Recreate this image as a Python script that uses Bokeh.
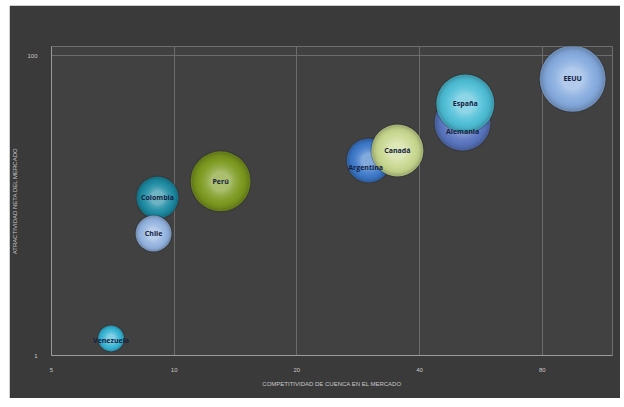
from bokeh.plotting import figure
from bokeh.layouts import row, column
from bokeh.models import (ColumnDataSource, FixedTicker, PrintfTickFormatter,
                          Spacer, Range1d)
from bokeh.embed import file_html
from bokeh.resources import INLINE
from bokeh.core.properties import value

# ---- data ----
countries = ["Venezuela", "Colombia", "Chile", "Perú", "Argentina", "Canadá",
             "Alemania", "España", "EEUU"]
competitividad = [7.0, 9.1, 8.9, 13.0, 30.0, 35.3, 51.0, 51.8, 95.0]
atractividad = [1.3, 11.3, 6.5, 14.5, 20.0, 23.3, 35.7, 47.9, 70.0]
bubble_size = [26, 42, 36, 60, 44, 52, 56, 58, 66]
x_ticks = [5, 10, 20, 40, 80]
y_ticks = [1, 100]

colors = ["#35b4d6", "#1b8ba3", "#93b3e0", "#7c9a1e", "#3b78c9", "#c9d98f",
          "#5a76c2", "#4dbfd8", "#86ace0"]
label_offsets = {"Venezuela": (0, 2), "Argentina": (-3, 7), "Alemania": (0, 9)}


def mix(c, t, f):
    a = [int(c[i:i + 2], 16) for i in (1, 3, 5)]
    b = [int(t[i:i + 2], 16) for i in (1, 3, 5)]
    return "#%02x%02x%02x" % tuple(int(round(a[i] + (b[i] - a[i]) * f)) for i in range(3))


p = figure(width=611, height=393, x_axis_type="log", y_axis_type="log",
           x_range=Range1d(5, 119), y_range=Range1d(1, 115),
           output_backend="svg", toolbar_location=None,
           min_border_left=39, min_border_right=8, min_border_top=41,
           min_border_bottom=43)
p.background_fill_color = "#414141"
p.border_fill_color = "#3a3a3a"
p.outline_line_color = None

for ax in (p.xaxis, p.yaxis):
    ax.axis_line_color = "#9a9a9a"
    ax.axis_line_width = 1
    ax.major_tick_line_color = None
    ax.minor_tick_line_color = None
    ax.major_label_text_color = "#c8c8c8"
    ax.major_label_text_font_size = "6px"
    ax.major_label_text_font = "Liberation Sans"
    ax.axis_label_text_color = "#c8c8c8"
    ax.axis_label_text_font_size = "6px"
    ax.axis_label_text_font = "Liberation Sans"
    ax.axis_label_text_font_style = "normal"
    ax.formatter = PrintfTickFormatter(format="%d")

p.xaxis.ticker = FixedTicker(ticks=x_ticks)
p.yaxis.ticker = FixedTicker(ticks=y_ticks)
p.xaxis.axis_label = "COMPETITIVIDAD DE CUENCA EN EL MERCADO"
p.yaxis.axis_label = "ATRACTIVIDAD NETA DEL MERCADO"
p.xaxis.major_label_standoff = 6
p.yaxis.major_label_standoff = 8
p.xaxis.axis_label_standoff = 6
p.yaxis.axis_label_standoff = 6

p.xgrid.ticker = FixedTicker(ticks=x_ticks[1:])
p.ygrid.ticker = FixedTicker(ticks=y_ticks[1:])
p.xgrid.grid_line_color = "#6c6c6c"
p.ygrid.grid_line_color = "#6c6c6c"
p.xgrid.minor_grid_line_color = None
p.ygrid.minor_grid_line_color = None

n_layers = 12
for i, name in enumerate(countries):
    base = colors[i]
    src = ColumnDataSource(dict(x=[competitividad[i]], y=[atractividad[i]]))
    p.scatter("x", "y", source=src, size=bubble_size[i] + 2,
              fill_color="#262626", fill_alpha=0.3, line_color=None)
    p.scatter("x", "y", source=src, size=bubble_size[i],
              fill_color=mix(base, "#000000", 0.18), line_color=None)
    for k in range(1, n_layers):
        f = k / (n_layers - 1)
        s = bubble_size[i] * (1 - 0.04 - 0.62 * f)
        c = mix(base, "#ffffff", 0.45 * f * f)
        p.scatter("x", "y", source=src, size=s, fill_color=c,
                  line_color=None, fill_alpha=0.45)

lab_src = ColumnDataSource(dict(
    x=competitividad, y=atractividad, t=countries,
    xo=[label_offsets.get(c, (0, 0))[0] for c in countries],
    yo=[label_offsets.get(c, (0, 0))[1] for c in countries]))
p.text("x", "y", text="t", source=lab_src, x_offset="xo", y_offset="yo",
       text_align="center", text_baseline="middle",
       text_font=value("Open Sans"), text_font_size="7px",
       text_font_style="bold", text_color="#14213f")

layout = row(Spacer(width=9), column(Spacer(height=5), p))
layout.background = "#ffffff"
open("out.html", "w").write(file_html(layout, INLINE))
